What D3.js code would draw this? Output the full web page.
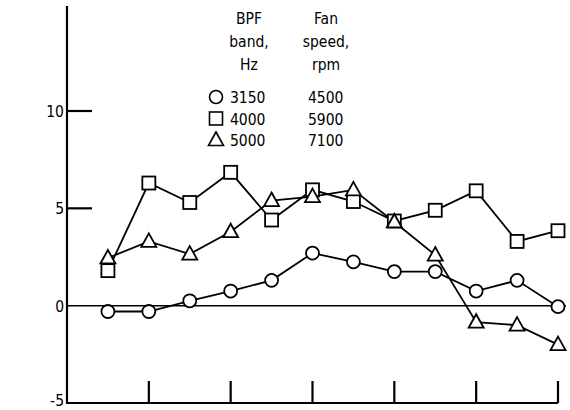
<!doctype html>
<html lang="en">
<head>
    <meta charset="utf-8">
    <title>BPF band level vs position</title>
    <script src="https://cdn.jsdelivr.net/npm/d3@7/dist/d3.min.js"></script>
    <style>
        body { margin: 0; background: #fff; }
        text { font-family: "DejaVu Sans Condensed", "DejaVu Sans", sans-serif; font-size: 15.5px; fill: #000; }
    </style>
</head>
<body>
<script>
    // x positions of the points (in tick units) and the three series
    var positions = [0.5, 1, 1.5, 2, 2.5, 3, 3.5, 4, 4.5, 5, 5.5, 6];
    var xTicks = [1, 2, 3, 4, 5, 6];
    var yTicks = [-5, 0, 5, 10];

    var bands = ["3150", "4000", "5000"];
    var fanSpeeds = ["4500", "5900", "7100"];
    var symbols = ["circle", "square", "triangle"];

    var band3150 = [-0.3, -0.3, 0.25, 0.75, 1.3, 2.7, 2.25, 1.75, 1.75, 0.75, 1.3, -0.05];
    var band4000 = [1.8, 6.3, 5.3, 6.85, 4.4, 5.95, 5.35, 4.35, 4.9, 5.9, 3.3, 3.85];
    var band5000 = [2.45, 3.3, 2.65, 3.8, 5.4, 5.6, 5.95, 4.3, 2.6, -0.85, -1.0, -2.0];

    var seriesValues = [band3150, band4000, band5000];

    var svg = d3.select("body").append("svg")
        .attr("width", 570).attr("height", 410);

    var x = d3.scaleLinear().domain([0, 6]).range([67, 558]);
    var y = d3.scaleLinear().domain([-5, 10]).range([403, 111]);

    // axes
    var axes = svg.append("g").attr("stroke", "#000").attr("fill", "none");
    axes.append("line")
        .attr("x1", x(0)).attr("x2", x(0))
        .attr("y1", y(15.4)).attr("y2", y(-5) + 1)
        .attr("stroke-width", 2.2);
    axes.append("line")
        .attr("x1", x(0)).attr("x2", x(6))
        .attr("y1", y(-5)).attr("y2", y(-5))
        .attr("stroke-width", 2.2);
    // zero line across the plot
    axes.append("line")
        .attr("x1", x(0)).attr("x2", 566)
        .attr("y1", y(0)).attr("y2", y(0))
        .attr("stroke-width", 1.5);

    axes.selectAll(".xt").data(xTicks).enter().append("line")
        .attr("x1", function(d){ return x(d); })
        .attr("x2", function(d){ return x(d); })
        .attr("y1", y(-5)).attr("y2", y(-5) - 22)
        .attr("stroke-width", 2.2);

    axes.selectAll(".yt").data([5, 10]).enter().append("line")
        .attr("x1", x(0)).attr("x2", x(0) + 25)
        .attr("y1", function(d){ return y(d); })
        .attr("y2", function(d){ return y(d); })
        .attr("stroke-width", 2.2);

    svg.append("g").selectAll("text").data(yTicks).enter().append("text")
        .attr("x", x(0) - 3)
        .attr("y", function(d){ return d === -5 ? y(d) + 3 : y(d) + 6; })
        .attr("text-anchor", "end")
        .text(function(d){ return d; });

    // lines
    var line = d3.line()
        .x(function(d, i){ return x(positions[i]); })
        .y(function(d){ return y(d); });

    svg.append("g").selectAll("path").data(seriesValues).enter().append("path")
        .attr("d", line)
        .attr("fill", "none")
        .attr("stroke", "#000")
        .attr("stroke-width", 1.8);

    // markers
    function drawMarker(g, kind, cx, cy) {
        if (kind === "circle") {
            g.append("circle").attr("cx", cx).attr("cy", cy).attr("r", 6.5);
        } else if (kind === "square") {
            g.append("rect").attr("x", cx - 6.5).attr("y", cy - 6.5).attr("width", 13).attr("height", 13);
        } else {
            g.append("path").attr("d", "M" + cx + "," + (cy - 8) + " L" + (cx + 7.5) + "," + (cy + 5.5) + " L" + (cx - 7.5) + "," + (cy + 5.5) + " Z");
        }
    }

    var markers = svg.append("g")
        .attr("fill", "#fff").attr("stroke", "#000").attr("stroke-width", 1.8);
    seriesValues.forEach(function(vals, s){
        vals.forEach(function(v, i){
            drawMarker(markers, symbols[s], x(positions[i]), y(v));
        });
    });

    // legend
    var legend = svg.append("g");
    var head1 = ["BPF", "band,", "Hz"];
    var head2 = ["Fan", "speed,", "rpm"];
    head1.forEach(function(t, i){
        legend.append("text").attr("x", 249).attr("y", 24 + i * 23)
            .attr("text-anchor", "middle").text(t);
    });
    head2.forEach(function(t, i){
        legend.append("text").attr("x", 326).attr("y", 24 + i * 23)
            .attr("text-anchor", "middle").text(t);
    });
    var legMarks = legend.append("g")
        .attr("fill", "#fff").attr("stroke", "#000").attr("stroke-width", 1.6);
    bands.forEach(function(b, i){
        var ly = 97 + i * 21.5;
        drawMarker(legMarks, symbols[i], 216, ly);
        legend.append("text").attr("x", 230).attr("y", ly + 6).text(b);
        legend.append("text").attr("x", 308).attr("y", ly + 6).text(fanSpeeds[i]);
    });
</script>
</body>
</html>
